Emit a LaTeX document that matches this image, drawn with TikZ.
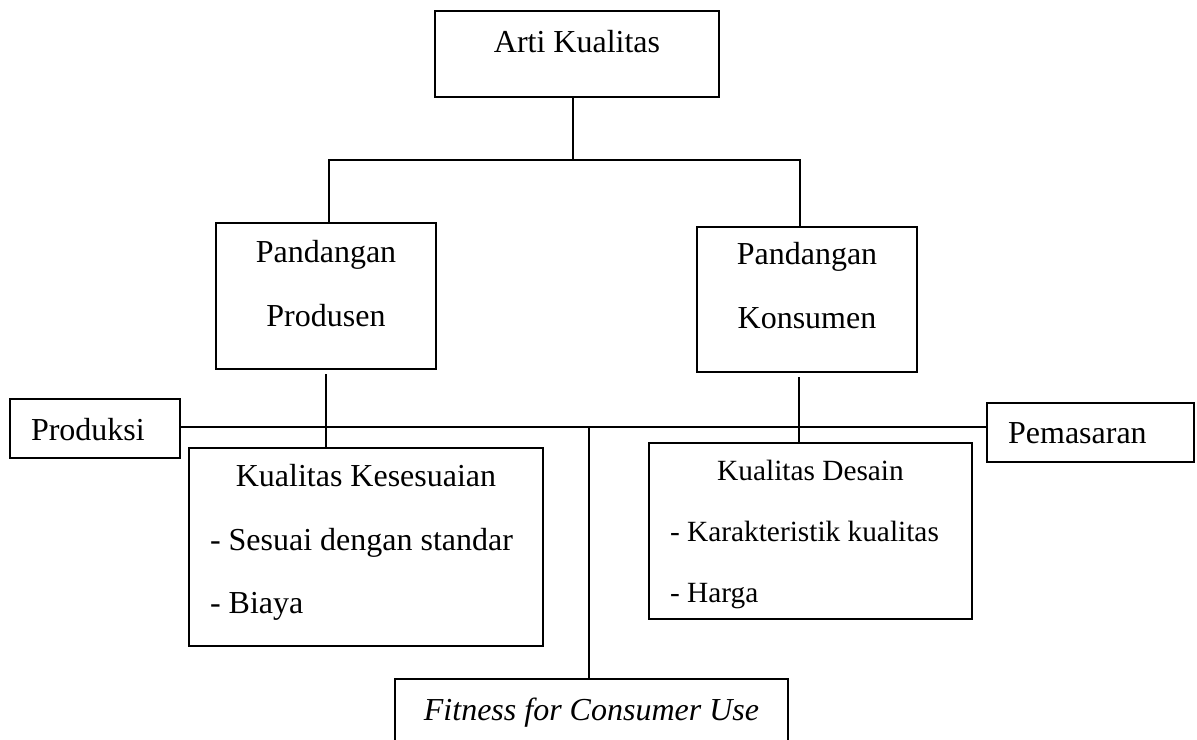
\documentclass[tikz,border=0pt]{standalone}
\usepackage{fontspec}
\setmainfont{Liberation Serif}

\begin{document}
\begin{tikzpicture}[x=0.375pt, y=-0.375pt,
    kotak/.style={draw, line width=0.9pt, inner sep=0pt, font=\fontsize{12}{24}\selectfont},
    garis/.style={line width=0.8pt}
]
\useasboundingbox (0,0) rectangle (1197,740);

\node[kotak, text width=106.5pt, align=flush center, text height=15.4pt, text depth=16.85pt] (arti) at (577,54) {Arti Kualitas};
\node[kotak, text width=82.5pt, align=flush center, text height=15pt, text depth=39.75pt] (produsen) at (326,296) {Pandangan\\Produsen};
\node[kotak, text width=82.5pt, align=flush center, text height=14.25pt, text depth=40.15pt] (konsumen) at (807,299.5) {Pandangan\\Konsumen};
\node[kotak, inner xsep=7.9pt, text width=48pt, align=flush left, text height=15.4pt, text depth=6.7pt] (produksi) at (95,428.5) {Produksi};
\node[kotak, inner xsep=7.9pt, text width=61.8pt, align=flush left, text height=15pt, text depth=7.1pt] (pemasaran) at (1090.5,432.5) {Pemasaran};
\node[kotak, font=\fontsize{12}{23.8}\selectfont, inner xsep=7.9pt, text width=117pt, align=flush left, text height=14.6pt, text depth=59.65pt] (kesesuaian) at (366,547) {{\centering Kualitas Kesesuaian\par}- Sesuai dengan standar\\- Biaya};
\node[kotak, font=\fontsize{11}{22.7}\selectfont, inner xsep=7.9pt, text width=105.3pt, align=flush left, text height=14.25pt, text depth=51.75pt] (desain) at (810.5,531) {{\centering Kualitas Desain\par}- Karakteristik kualitas\\- Harga};
\node[kotak, font=\fontsize{12}{24}\selectfont\itshape, text width=147.4pt, align=flush center, text height=15.4pt, text depth=18.7pt] (fitness) at (591.5,724.5) {Fitness for Consumer Use};

\draw[garis] ([xshift=-1.5pt]arti.south) -- ++(0,62) coordinate (cabang);
\draw[garis] ([xshift=1.1pt]produsen.north) |- (cabang) -| ([xshift=-2.6pt]konsumen.north);
\coordinate (jalur) at (0,427);
\draw[garis] (produksi.east |- jalur) -- (pemasaran.west |- jalur);
\draw[garis] ([yshift=-1.5pt]produsen.south) -- (produsen.south |- kesesuaian.north);
\draw[garis] ([xshift=-3pt,yshift=-1.5pt]konsumen.south) coordinate (k) -- (k |- desain.north);
\draw[garis] ([xshift=-0.9pt]fitness.north) coordinate (f) -- (f |- jalur);
\end{tikzpicture}
\end{document}
